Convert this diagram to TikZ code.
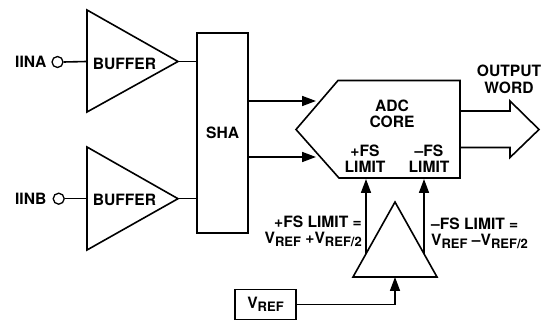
\documentclass[tikz,border=0pt]{standalone}
\usepackage{fontspec}
\setmainfont{TeX Gyre Heros}
\usetikzlibrary{arrows.meta}
\newcommand{\subs}[1]{\raisebox{-2.6pt}{\fontsize{13}{13}\selectfont #1}}
\tikzset{
 x=1pt,y=-1pt,
 ln/.style={line width=1.6pt,line join=miter,miter limit=10},
 conn/.style={ln},
 arrowed/.style={ln,-{Triangle[length=14pt,width=10pt]}},
 lab/.style={font=\fontsize{15.6}{16.5}\selectfont\bfseries,inner sep=0pt,align=center},
}
\begin{document}
\begin{tikzpicture}
\useasboundingbox (0,0) rectangle (544,320);
% buffers
\draw[ln,fill=white] (87,10) -- (178,61.5) -- (87,112) -- cycle;
\draw[ln,fill=white] (87,147) -- (178,198.7) -- (87,250) -- cycle;
\coordinate (atip) at (178,61.5);
\coordinate (btip) at (178,198.7);
\coordinate (ain) at (87,61.5);
\coordinate (bin) at (87,198.7);
\node[lab] (bufa) at (124.5,63.5) {BUFFER};
\node[lab] (bufb) at (124.5,199.5) {BUFFER};
% terminals
\node[circle,draw,line width=1.3pt,minimum size=11pt,inner sep=0pt] (ta) at (57.5,62) {};
\node[circle,draw,line width=1.3pt,minimum size=11pt,inner sep=0pt] (tb) at (58.7,198.7) {};
\node[lab,anchor=east] (iina) at (46.5,61.5) {IINA};
\node[lab,anchor=east] (iinb) at (46.5,198.5) {IINB};
\draw[conn] (ta.east) -- (ain);
\draw[conn] (tb.east) -- (bin);
% SHA
\node[draw,line width=1.6pt,minimum width=51pt,minimum height=200pt,inner sep=0pt,lab] (sha) at (222.7,133) {SHA};
\draw[conn] (atip) -- (atip -| sha.west);
\draw[conn] (btip) -- (btip -| sha.west);
% ADC
\draw[ln] (296,129.5) -- (338,80.5) -- (460,80.5) -- (460,178) -- (339,178) -- cycle;
\coordinate (ina) at (316,101);
\coordinate (inb) at (316,157);
\draw[arrowed] (sha.east |- ina) -- (ina);
\draw[arrowed] (sha.east |- inb) -- (inb);
\node[lab] (adc) at (392,114) {ADC\\CORE};
\node[lab] (pfs) at (365,158.5) {+FS\\LIMIT};
\node[lab] (mfs) at (429,158.5) {–FS\\LIMIT};
% output
\draw[ln] (460,111) -- (510,111) -- (510,101) -- (539,129.5) -- (510,157.5) -- (510,147.5) -- (460,147.5);
\node[lab] (out) at (509,79.5) {OUTPUT\\WORD};
% amp
\draw[ln] (395,202) -- (437,277) -- (353,277) -- cycle;
\coordinate (ampbase) at (395,277);
\coordinate (pstart) at (366,254);
\coordinate (mstart) at (424,254);
\coordinate (pend) at (366,179);
\coordinate (mend) at (424,179);
\draw[arrowed] (pstart) -- (pend);
\draw[arrowed] (mstart) -- (mend);
\node[lab,anchor=east,align=right] (plab) at (362,231) {+FS LIMIT =\\V\subs{REF} +V\subs{REF/2}};
\node[lab,anchor=west,align=left] (mlab) at (431,233) {–FS LIMIT =\\V\subs{REF} –V\subs{REF/2}};
% vref
\node[draw,line width=1.6pt,minimum width=61pt,minimum height=30pt,inner sep=0pt,lab] (vref) at (265.5,304.5) {V\subs{REF}};
\draw[arrowed] (vref.east) -- (ampbase |- vref.east) -- (ampbase);
\end{tikzpicture}
\end{document}
